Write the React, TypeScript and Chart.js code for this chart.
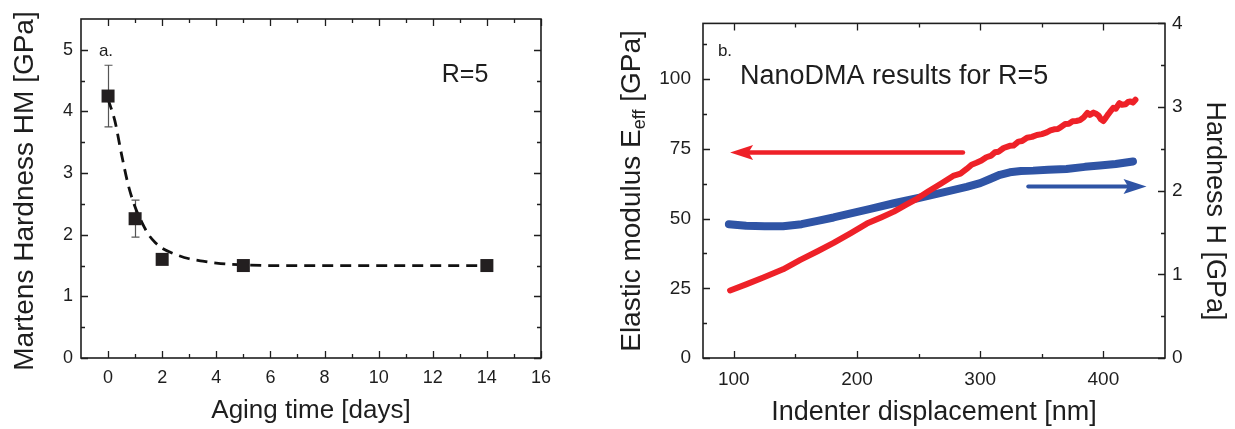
import React, { useEffect, useRef } from "react";
import { Chart, registerables } from "chart.js";
Chart.register(...registerables);

const FONT = "'Liberation Sans', Arial, Helvetica, sans-serif";
const INK = "#1e1e1e";

// ---------- Panel a: Martens hardness vs aging time ----------
const agingDays = [0, 1, 2, 5, 14];
const martensHM = [4.25, 2.26, 1.6, 1.5, 1.5];
const martensErr = [0.5, 0.3, 0, 0, 0];
const fitDays = [0, 0.25, 0.5, 0.75, 1, 1.25, 1.5, 1.75, 2, 2.5, 3, 3.5, 4, 5, 6, 8, 10, 12, 14];
const fitHM = [4.2, 3.85, 3.3, 2.8, 2.45, 2.2, 2.0, 1.87, 1.78, 1.68, 1.61, 1.57, 1.54, 1.51, 1.5, 1.5, 1.5, 1.5, 1.5];
const aXMajor = [0, 2, 4, 6, 8, 10, 12, 14, 16];
const aXMinor = [1, 3, 5, 7, 9, 11, 13, 15];
const aYMajor = [0, 1, 2, 3, 4, 5];
const aYMinor = [0.5, 1.5, 2.5, 3.5, 4.5];

// ---------- Panel b: NanoDMA ----------
const dispE = [97, 110, 124, 140, 154, 168, 181, 195, 208, 220, 230, 240, 249, 258, 268, 278, 284, 289, 293, 297, 301, 305, 309, 312, 315, 319, 324, 327, 331, 334, 338, 342, 346, 350, 354, 357, 360, 363, 365, 369, 372, 375, 378, 381, 384, 387, 389, 392, 394, 396, 398, 400, 402, 404, 406, 408, 410, 413, 415, 418, 420, 422, 424, 426];
const modulusE = [24.2, 26.4, 28.9, 31.8, 35.2, 38.3, 41.3, 44.8, 48.2, 50.5, 52.5, 55, 57.2, 59.8, 62.5, 65.3, 66.1, 67.8, 69.3, 70, 70.8, 72, 72.6, 73.8, 74, 75.3, 76.1, 76.2, 77.6, 77.8, 79, 79.3, 80, 80.3, 80.9, 81.6, 82, 82.1, 82.7, 83.9, 84, 84.9, 85, 85.3, 86.3, 87.9, 87.2, 88, 87.6, 87, 85.6, 85, 86.2, 87.5, 88.6, 89.7, 89.4, 91.4, 90.8, 91, 91.8, 92, 91.6, 92.6];
const dispH = [96, 110, 125, 140, 155, 168, 181, 195, 210, 230, 249, 270, 289, 300, 308, 316, 324, 333, 343, 355, 370, 385, 397, 410, 424];
const hardnessH = [1.6, 1.58, 1.575, 1.575, 1.6, 1.64, 1.68, 1.73, 1.78, 1.85, 1.91, 1.98, 2.045, 2.09, 2.14, 2.19, 2.22, 2.235, 2.24, 2.25, 2.26, 2.285, 2.3, 2.32, 2.35];
const bXMajor = [100, 200, 300, 400];
const bXMinor = [150, 250, 350];
const bYMajor = [0, 25, 50, 75, 100];
const bYMinor = [12.5, 37.5, 62.5, 87.5, 112.5];
const bY2Major = [0, 1, 2, 3, 4];
const bY2Minor = [0.5, 1.5, 2.5, 3.5];
// arrows (data coordinates: tail -> tip)
const arrowEX = [286, 97];
const arrowEY = [73.7, 73.7];
const arrowHX = [339, 435];
const arrowHY = [2.05, 2.05];

const RED = "#ee2128";
const BLUE = "#2f54a5";

function pts(xs: number[], ys: number[]) {
  return xs.map((x, i) => ({ x, y: ys[i] }));
}

function drawFrameAndTicks(chart: any, xS: any, yL: any, yR: any, xMaj: number[], xMin: number[], yLMaj: number[], yLMin: number[], yRMaj: number[], yRMin: number[]) {
  const { ctx, chartArea: a } = chart;
  const MJ = 7, MN = 4;
  ctx.save();
  ctx.strokeStyle = INK;
  ctx.lineWidth = 1.3;
  ctx.beginPath();
  const tx = (vals: number[], len: number) => {
    vals.forEach((v) => {
      const p = Math.round(xS.getPixelForValue(v)) + 0.5;
      ctx.moveTo(p, a.bottom);
      ctx.lineTo(p, a.bottom - len);
      ctx.moveTo(p, a.top);
      ctx.lineTo(p, a.top + len);
    });
  };
  const ty = (sc: any, vals: number[], len: number, side: "l" | "r") => {
    vals.forEach((v) => {
      const p = Math.round(sc.getPixelForValue(v)) + 0.5;
      if (side === "l") {
        ctx.moveTo(a.left, p);
        ctx.lineTo(a.left + len, p);
      } else {
        ctx.moveTo(a.right, p);
        ctx.lineTo(a.right - len, p);
      }
    });
  };
  tx(xMaj, MJ);
  tx(xMin, MN);
  ty(yL, yLMaj, MJ, "l");
  ty(yL, yLMin, MN, "l");
  ty(yR, yRMaj, MJ, "r");
  ty(yR, yRMin, MN, "r");
  ctx.stroke();
  ctx.lineWidth = 1.6;
  ctx.strokeRect(a.left, a.top, a.right - a.left, a.bottom - a.top);
  ctx.restore();
}

function text(ctx: CanvasRenderingContext2D, s: string, x: number, y: number, size: number, rot = 0, align: CanvasTextAlign = "center") {
  ctx.save();
  ctx.translate(x, y);
  ctx.rotate(rot);
  ctx.font = `${size}px ${FONT}`;
  ctx.fillStyle = INK;
  ctx.textAlign = align;
  ctx.textBaseline = "middle";
  ctx.fillText(s, 0, 0);
  ctx.restore();
}

function arrow(ctx: CanvasRenderingContext2D, x1: number, y1: number, x2: number, y2: number, color: string, lw: number) {
  const dir = Math.sign(x2 - x1);
  const hl = 23, hw = 7.5;
  ctx.save();
  ctx.strokeStyle = color;
  ctx.fillStyle = color;
  ctx.lineWidth = lw;
  ctx.lineCap = "round";
  ctx.beginPath();
  ctx.moveTo(x1, y1);
  ctx.lineTo(x2 - dir * hl * 0.8, y2);
  ctx.stroke();
  ctx.beginPath();
  ctx.moveTo(x2, y2);
  ctx.lineTo(x2 - dir * hl, y2 - hw);
  ctx.lineTo(x2 - dir * hl * 0.8, y2);
  ctx.lineTo(x2 - dir * hl, y2 + hw);
  ctx.closePath();
  ctx.fill();
  ctx.restore();
}

const baseTickFont = (size: number) => ({ family: FONT, size });

export default function App() {
  const refA = useRef<HTMLCanvasElement>(null);
  const refB = useRef<HTMLCanvasElement>(null);

  useEffect(() => {
    const setTicks = (vals: number[]) => (s: any) => {
      s.ticks = vals.map((value) => ({ value }));
    };

    const errPlugin = {
      id: "errbars",
      beforeDatasetsDraw(chart: any) {
        const { ctx } = chart;
        const xS = chart.scales.x, yS = chart.scales.y;
        ctx.save();
        ctx.strokeStyle = "#555";
        ctx.lineWidth = 1.2;
        ctx.beginPath();
        agingDays.forEach((d, i) => {
          const e = martensErr[i];
          if (!e) return;
          const px = Math.round(xS.getPixelForValue(d)) + 0.5;
          const top = yS.getPixelForValue(martensHM[i] + e);
          const bot = yS.getPixelForValue(martensHM[i] - e);
          ctx.moveTo(px, top);
          ctx.lineTo(px, bot);
          ctx.moveTo(px - 4, top);
          ctx.lineTo(px + 4, top);
          ctx.moveTo(px - 4, bot);
          ctx.lineTo(px + 4, bot);
        });
        ctx.stroke();
        ctx.restore();
      },
      afterDraw(chart: any) {
        const { ctx } = chart;
        const s = chart.scales;
        drawFrameAndTicks(chart, s.x, s.y, s.y, aXMajor, aXMinor, aYMajor, aYMinor, aYMajor, aYMinor);
        text(ctx, "Martens Hardness HM [GPa]", 25, 191, 28, -Math.PI / 2);
        text(ctx, "Aging time [days]", 311, 411, 26);
        text(ctx, "a.", 106, 51, 17);
        text(ctx, "R=5", 465, 75, 25);
      },
    };

    const chartA = new Chart(refA.current as HTMLCanvasElement, {
      type: "scatter",
      data: {
        datasets: [
          {
            data: pts(agingDays, martensHM),
            pointStyle: "rect",
            pointRadius: 9.2,
            pointBackgroundColor: "#231f20",
            pointBorderColor: "#231f20",
            pointBorderWidth: 0,
            showLine: false,
          },
          {
            data: pts(fitDays, fitHM),
            showLine: true,
            borderColor: "#111",
            borderWidth: 2.8,
            borderDash: [11, 7],
            pointRadius: 0,
            cubicInterpolationMode: "monotone",
          } as any,
        ],
      },
      options: {
        responsive: false,
        animation: false,
        devicePixelRatio: 1,
        layout: { padding: { top: 19, right: 19, left: 0, bottom: 0 } },
        plugins: { legend: { display: false }, tooltip: { enabled: false } },
        scales: {
          x: {
            type: "linear",
            min: -1,
            max: 16,
            afterBuildTicks: setTicks(aXMajor),
            afterFit: (s: any) => { s.height = 71; },
            grid: { display: false, drawTicks: false },
            border: { display: false },
            ticks: { font: baseTickFont(18), color: INK, padding: 9, maxRotation: 0, autoSkip: false },
          },
          y: {
            type: "linear",
            min: 0,
            max: 5.5,
            afterBuildTicks: setTicks(aYMajor),
            afterFit: (s: any) => { s.width = 81; },
            grid: { display: false, drawTicks: false },
            border: { display: false },
            ticks: { font: baseTickFont(18), color: INK, padding: 8, autoSkip: false },
          },
        },
      },
      plugins: [errPlugin],
    });

    const bPlugin = {
      id: "panelb",
      afterDraw(chart: any) {
        const { ctx } = chart;
        const s = chart.scales;
        drawFrameAndTicks(chart, s.x, s.y, s.y2, bXMajor, bXMinor, bYMajor, bYMinor, bY2Major, bY2Minor);
        arrow(ctx, s.x.getPixelForValue(arrowEX[0]), s.y.getPixelForValue(arrowEY[0]), s.x.getPixelForValue(arrowEX[1]), s.y.getPixelForValue(arrowEY[1]), RED, 4.5);
        arrow(ctx, s.x.getPixelForValue(arrowHX[0]), s.y2.getPixelForValue(arrowHY[0]), s.x.getPixelForValue(arrowHX[1]), s.y2.getPixelForValue(arrowHY[1]), BLUE, 4);
        // left title with subscript
        ctx.save();
        ctx.translate(32, 191);
        ctx.rotate(-Math.PI / 2);
        ctx.fillStyle = INK;
        ctx.textBaseline = "middle";
        ctx.textAlign = "left";
        const mainF = `28px ${FONT}`, subF = `18px ${FONT}`;
        const p1 = "Elastic modulus E", p2 = "eff", p3 = " [GPa]";
        ctx.font = mainF;
        const w1 = ctx.measureText(p1).width, w3 = ctx.measureText(p3).width;
        ctx.font = subF;
        const w2 = ctx.measureText(p2).width;
        const x0 = -(w1 + w2 + w3) / 2;
        ctx.font = mainF;
        ctx.fillText(p1, x0, 0);
        ctx.font = subF;
        ctx.fillText(p2, x0 + w1, 8);
        ctx.font = mainF;
        ctx.fillText(p3, x0 + w1 + w2, 0);
        ctx.restore();
        text(ctx, "Indenter displacement [nm]", 334, 413, 27);
        text(ctx, "Hardness H [GPa]", 614, 211, 27, Math.PI / 2);
        text(ctx, "b.", 125, 51, 17);
        text(ctx, "NanoDMA results for R=5", 140, 77, 27, 0, "left");
      },
    };

    const chartB = new Chart(refB.current as HTMLCanvasElement, {
      type: "scatter",
      data: {
        datasets: [
          {
            data: pts(dispE, modulusE),
            yAxisID: "y",
            showLine: true,
            borderColor: RED,
            borderWidth: 6,
            pointRadius: 0,
            borderCapStyle: "round",
            borderJoinStyle: "round",
          },
          {
            data: pts(dispH, hardnessH),
            yAxisID: "y2",
            showLine: true,
            borderColor: BLUE,
            borderWidth: 8,
            pointRadius: 0,
            borderCapStyle: "round",
            borderJoinStyle: "round",
          },
        ],
      },
      options: {
        responsive: false,
        animation: false,
        devicePixelRatio: 1,
        layout: { padding: { top: 19, right: 0, left: 0, bottom: 0 } },
        plugins: { legend: { display: false }, tooltip: { enabled: false } },
        scales: {
          x: {
            type: "linear",
            min: 75,
            max: 450,
            afterBuildTicks: setTicks(bXMajor),
            afterFit: (s: any) => { s.height = 71; },
            grid: { display: false, drawTicks: false },
            border: { display: false },
            ticks: { font: baseTickFont(19), color: INK, padding: 10, maxRotation: 0, autoSkip: false },
          },
          y: {
            type: "linear",
            position: "left",
            min: 0,
            max: 120,
            afterBuildTicks: setTicks(bYMajor),
            afterFit: (s: any) => { s.width = 103; },
            grid: { display: false, drawTicks: false },
            border: { display: false },
            ticks: { font: baseTickFont(19), color: INK, padding: 12, autoSkip: false },
          },
          y2: {
            type: "linear",
            position: "right",
            min: 0,
            max: 4,
            afterBuildTicks: setTicks(bY2Major),
            afterFit: (s: any) => { s.width = 70; },
            grid: { display: false, drawTicks: false },
            border: { display: false },
            ticks: { font: baseTickFont(19), color: INK, padding: 7, autoSkip: false },
          },
        },
      },
      plugins: [bPlugin],
    });

    return () => {
      chartA.destroy();
      chartB.destroy();
    };
  }, []);

  return (
    <div style={{ position: "fixed", left: 0, top: 0, width: 1235, height: 429, background: "#fff" }}>
      <canvas ref={refA} width={560} height={429} style={{ position: "absolute", left: 0, top: 0, width: 560, height: 429 }} />
      <canvas ref={refB} width={635} height={429} style={{ position: "absolute", left: 600, top: 0, width: 635, height: 429 }} />
    </div>
  );
}
